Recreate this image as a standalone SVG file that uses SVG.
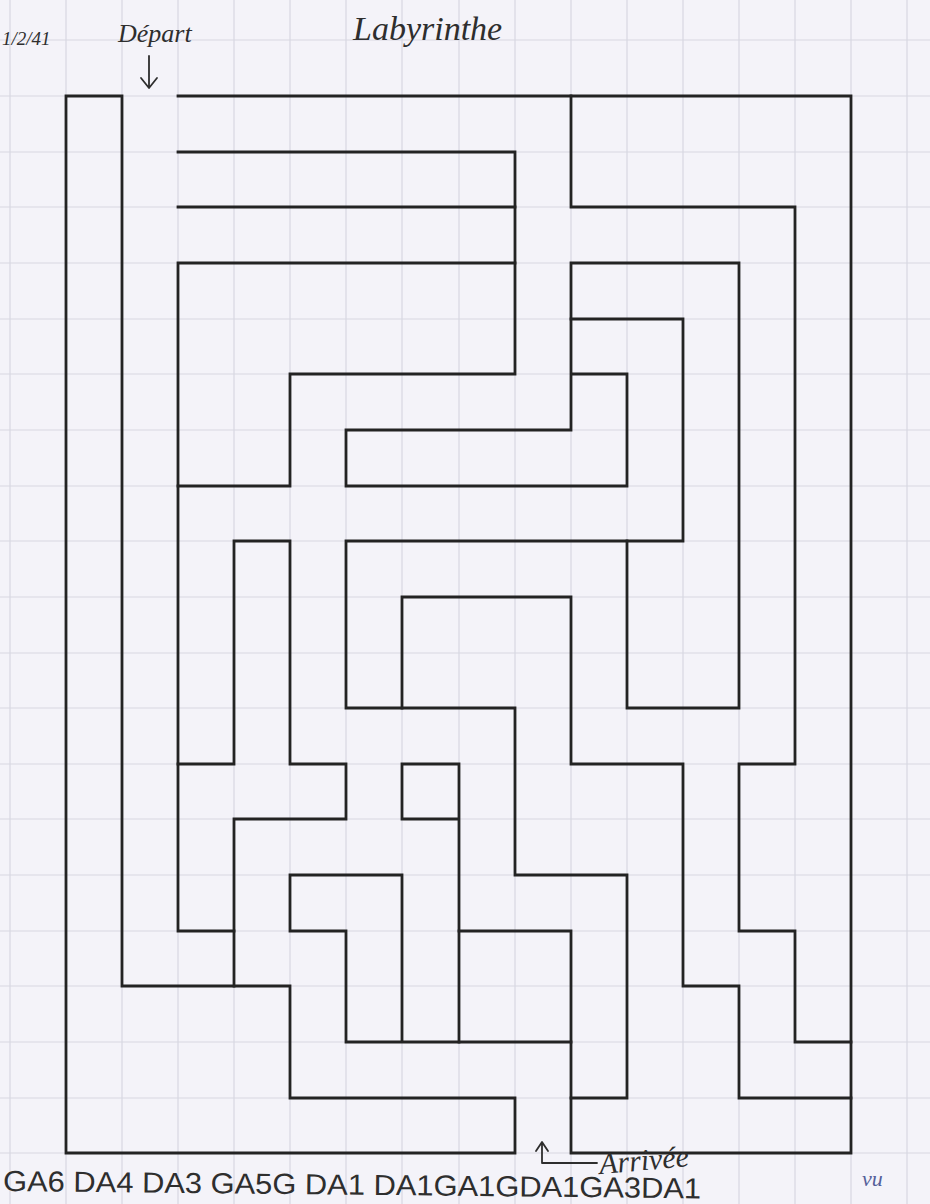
<svg xmlns="http://www.w3.org/2000/svg" width="930" height="1204" viewBox="0 0 930 1204">
<defs>
<style>
.grid{stroke:#d8d8e2;stroke-width:1.2;fill:none}
.wall{stroke:#232323;stroke-width:2.8;fill:none;stroke-linejoin:miter;stroke-linecap:square}
.hand{font-family:"Liberation Serif","DejaVu Serif",serif;font-style:italic;fill:#2e2e2e}
.caps{font-family:"Liberation Sans","DejaVu Sans",sans-serif;fill:#2e2e2e}
.pen{stroke:#2e2e2e;stroke-width:1.8;fill:none;stroke-linecap:round;stroke-linejoin:round}
</style>
</defs>
<rect x="0" y="0" width="930" height="1204" fill="#f4f3f9"/>
<g id="grid" class="grid">
<path d="M10 0V1204M66 0V1204M122 0V1204M178 0V1204M234 0V1204M290 0V1204M346 0V1204M402 0V1204M459 0V1204M515 0V1204M571 0V1204M627 0V1204M683 0V1204M739 0V1204M795 0V1204M851 0V1204M907 0V1204"/>
<path d="M0 40H930M0 96H930M0 152H930M0 207H930M0 263H930M0 319H930M0 374H930M0 430H930M0 486H930M0 541H930M0 597H930M0 653H930M0 708H930M0 764H930M0 819H930M0 875H930M0 931H930M0 986H930M0 1042H930M0 1098H930M0 1153H930"/>
</g>
<g id="walls" class="wall">
<path d="M515 1098V1153H66V96H122V986H290V1098H515"/>
<path d="M178 96H851V1153H571V931H459"/>
<path d="M571 96V207H795V764H739V931H795V1042H851"/>
<path d="M851 1098H739V986H683V764H571V597H402V708"/>
<path d="M178 152H515V374H290V486H178"/>
<path d="M178 207H515"/>
<path d="M515 263H178V931H234"/>
<path d="M178 764H234V541H290V764H346V819H234V986"/>
<path d="M571 319H683V541H346V708H515V875H627V1098H571"/>
<path d="M627 541V708H739V263H571V430H346V486H627V374H571"/>
<path d="M402 1042V875H290V931H346V1042H571"/>
<path d="M459 1042V764H402V819H459"/>
</g>
<g id="title">
<text class="hand" x="2" y="45" font-size="19">1/2/41</text>
<text class="hand" x="118" y="42" font-size="26">Départ</text>
<text class="hand" x="353" y="40" font-size="34">Labyrinthe</text>
</g>
<g id="depart-arrow" class="pen">
<path d="M149 56V86M141 78L149 88L157 78"/>
</g>
<g id="arrivee">
<path class="pen" d="M542 1144V1163H597M536 1151L542 1142L548 1151"/>
<text class="hand" x="600" y="1174" font-size="30" transform="rotate(-5 600 1174)">Arrivée</text>
</g>
<g id="solution">
<text class="caps" x="3" y="1191" font-size="29" textLength="698" lengthAdjust="spacingAndGlyphs" transform="rotate(0.6 3 1191)">GA6 DA4 DA3 GA5G DA1 DA1GA1GDA1GA3DA1</text>
</g>
<g id="mark">
<text class="hand" x="862" y="1186" font-size="22" style="fill:#55609a">vu</text>
</g>
</svg>
